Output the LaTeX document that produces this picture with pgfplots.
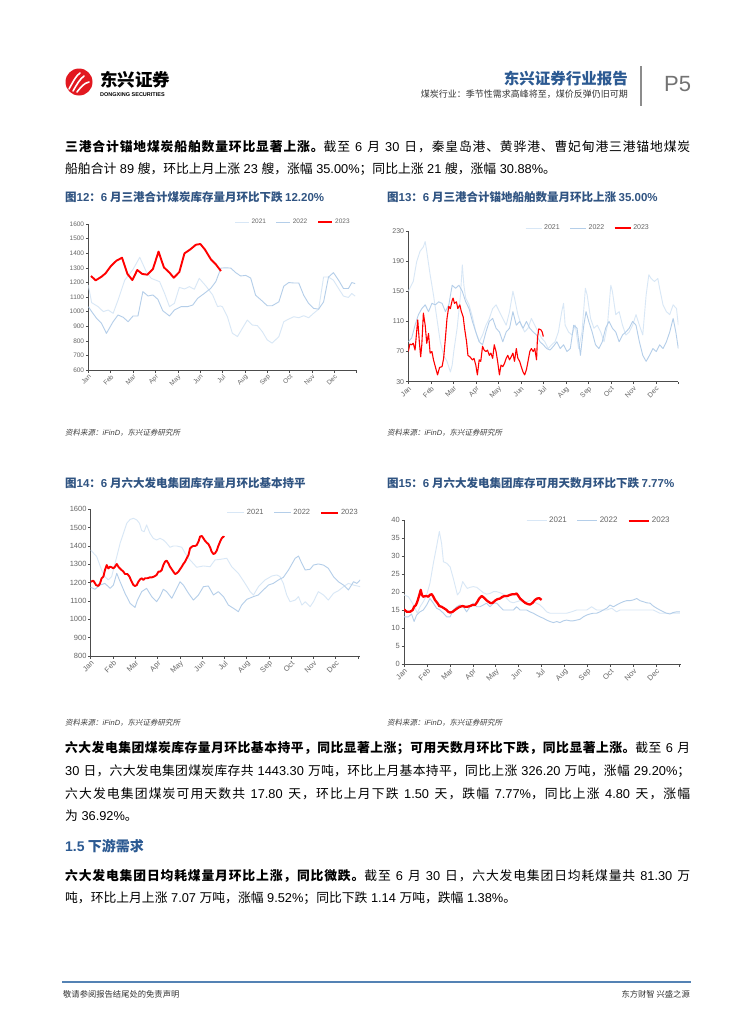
\documentclass[border=0pt]{standalone}
\usepackage{pgfplots}
\pgfplotsset{compat=1.18}
\usepackage{fontspec}
\setmainfont{Noto Sans CJK SC}
\newfontfamily\lat{Liberation Sans}
\newfontfamily\cjkit{Noto Sans CJK SC}[FakeSlant=0.2]
% stretchable glue between CJK characters, used by the justified body lines
\XeTeXinterchartokenstate=1
\newcount\cjkn
\cjkn="4E00
\loop\ifnum\cjkn<"A000 \XeTeXcharclass\cjkn=7 \advance\cjkn by 1 \repeat
\XeTeXcharclass"FF0C=7 \XeTeXcharclass"3001=7 \XeTeXcharclass"3002=7
\XeTeXcharclass"FF1B=7 \XeTeXcharclass"FF1A=7
\XeTeXinterchartoks 7 7 = {\hskip 0pt plus 1pt\relax}

\definecolor{c21}{RGB}{216,231,246}
\definecolor{c22}{RGB}{180,206,233}
\definecolor{tblue}{RGB}{48,84,130}
\definecolor{hblue}{RGB}{44,90,146}
\definecolor{fblue}{RGB}{84,130,180}
\definecolor{logored}{RGB}{226,24,32}

\newcommand\tk[1]{\lat\fontsize{#1bp}{#1bp}\selectfont}
\newcommand\nm[1]{{\lat\ #1\ }}
\newcommand\nmr[1]{{\lat\ #1}}
\newcommand\bodyfont{\fontsize{12.8bp}{16bp}\selectfont}
\newcommand\jline[3]{\node[anchor=base west,inner sep=0pt,font=\bodyfont] at (#1bp,-#2bp) {\makebox[625bp][s]{#3}};}
\newcommand\nline[3]{\node[anchor=base west,inner sep=0pt,font=\bodyfont] at (#1bp,-#2bp) {#3};}
\newcommand\src[2]{\node[anchor=base west,inner sep=0pt,text=black!75,font=\fontsize{7.5bp}{8bp}\selectfont] at (#1bp,-#2bp) {\cjkit 资料来源：{\lat\itshape iFinD}，东兴证券研究所};}

\pgfplotsset{
  pc/.style={
    scale only axis, anchor=south west,
    axis lines=left,
    axis line style={-, draw=black!70, line width=0.6bp},
    tick align=outside, major tick length=2.5bp,
    tick style={draw=black!70, line width=0.5bp},
    xmin=0, xmax=12, xtick={0,...,12},
    xticklabels={Jan,Feb,Mar,Apr,May,Jun,Jul,Aug,Sep,Oct,Nov,Dec,{}},
    xticklabel style={rotate=45, anchor=north east, inner sep=1bp, text=black!60},
    yticklabel style={text=black!60, inner sep=1.5bp},
    /pgf/number format/assume math mode=true,
    /pgf/number format/1000 sep={},
    legend style={draw=none, fill=none, anchor=east, legend columns=3,
      inner sep=0pt, text=black!60,
      /tikz/every even column/.append style={column sep=8bp}},
    no markers, every axis plot/.append style={line join=round},
  },
  p21/.style={c21, line width=0.9bp},
  p22/.style={c22, line width=0.9bp},
  p23/.style={red, line width=1.9bp},
}

\begin{document}
\begin{tikzpicture}
\fill[white] (0,0) rectangle (755bp,-1024bp);

% header
\fill[logored] (79bp,-82bp) circle (13.5bp);
\draw[white, line width=1.6bp, line cap=round] (69bp,-89bp) .. controls (74bp,-80bp) and (76bp,-76bp) .. (80bp,-73bp);
\draw[white, line width=1.6bp, line cap=round] (73bp,-91bp) .. controls (77bp,-84bp) and (80bp,-79bp) .. (84bp,-76bp);
\draw[white, line width=1.6bp, line cap=round] (77bp,-92bp) .. controls (81bp,-87bp) and (84bp,-83bp) .. (89bp,-82bp);
\node[anchor=west, inner sep=0pt, font=\bfseries\fontsize{17.5bp}{17.5bp}\selectfont] at (100bp,-80bp) {东兴证券};
\node[anchor=west, inner sep=0pt, font=\lat\bfseries\fontsize{5.5bp}{6bp}\selectfont] at (100bp,-95bp) {DONGXING SECURITIES};
\node[anchor=base east, inner sep=0pt, text=hblue, font=\bfseries\fontsize{15.5bp}{15.5bp}\selectfont] at (628bp,-84bp) {东兴证券行业报告};
\node[anchor=base east, inner sep=0pt, text=black!80, font=\fontsize{9bp}{9bp}\selectfont] at (628bp,-97bp) {煤炭行业：季节性需求高峰将至，煤价反弹仍旧可期};
\draw[black!45, line width=1.2bp] (641bp,-66bp) -- (641bp,-106bp);
\node[anchor=west, inner sep=0pt, text=black!55, font=\lat\fontsize{22bp}{22bp}\selectfont] at (664bp,-84bp) {P5};

% paragraph 1
\jline{65}{151}{\textbf{三港合计锚地煤炭船舶数量环比显著上涨。}截至\nm{6}月\nm{30}日，秦皇岛港、黄骅港、曹妃甸港三港锚地煤炭}
\nline{65}{173}{船舶合计\nm{89}艘，环比上月上涨\nm{23}艘，涨幅\nmr{35.00\%}；同比上涨\nm{21}艘，涨幅\nmr{30.88\%}。}

% chart titles
\node[anchor=base west, inner sep=0pt, text=tblue, font=\bfseries\fontsize{11.5bp}{12bp}\selectfont] at (65bp,-201.5bp) {图{\lat 12}：{\lat 6} 月三港合计煤炭库存量月环比下跌 {\lat 12.20\%}};
\node[anchor=base west, inner sep=0pt, text=tblue, font=\bfseries\fontsize{11.5bp}{12bp}\selectfont] at (387bp,-201.5bp) {图{\lat 13}：{\lat 6} 月三港合计锚地船舶数量月环比上涨 {\lat 35.00\%}};
\node[anchor=base west, inner sep=0pt, text=tblue, font=\bfseries\fontsize{11.5bp}{12bp}\selectfont] at (65bp,-487.5bp) {图{\lat 14}：{\lat 6} 月六大发电集团库存量月环比基本持平};
\node[anchor=base west, inner sep=0pt, text=tblue, font=\bfseries\fontsize{11.5bp}{12bp}\selectfont] at (387bp,-487.5bp) {图{\lat 15}：{\lat 6} 月六大发电集团库存可用天数月环比下跌 {\lat 7.77\%}};

% chart 12
\begin{axis}[pc, at={(88.3bp,-370bp)}, width=268.4bp, height=146bp,
  ymin=600, ymax=1600, ytick={600,700,...,1600},
  tick label style={font=\tk{6.5}},
  legend style={at={(0.982,1.014)}, font=\tk{6.5}},
  legend image code/.code={\draw[#1] (0bp,0bp) -- (14bp,0bp);}]
\addplot[p21] coordinates {(0,1182)(0.15,1061)(0.44,1034)(0.67,1000)(0.89,1011)(1.11,988)(1.33,1079)(1.63,1216)(2.0,1289)(2.3,1372)(2.59,1274)(2.81,1228)(3.19,1205)(3.41,1125)(3.63,1034)(3.85,1057)(4.07,1166)(4.3,1155)(4.52,1171)(4.74,1153)(4.96,1228)(5.26,1175)(5.56,1114)(5.78,1034)(5.9,1039)(6.0,1033)(6.22,965)(6.44,852)(6.67,829)(6.89,886)(7.11,942)(7.33,908)(7.56,904)(7.78,863)(8.0,806)(8.22,784)(8.52,829)(8.74,931)(8.96,949)(9.19,965)(9.41,958)(9.63,972)(9.85,958)(10.07,988)(10.3,1017)(10.52,1237)(10.74,1237)(10.96,1215)(11.19,1158)(11.41,1106)(11.63,1097)(11.78,1124)(11.93,1106)};
\addplot[p22] coordinates {(0,1034)(0.15,1000)(0.37,954)(0.59,920)(0.81,851)(1.11,931)(1.33,977)(1.56,961)(1.78,931)(2.0,970)(2.22,970)(2.44,1137)(2.67,1107)(2.89,1114)(3.11,1084)(3.33,1006)(3.63,970)(3.85,1011)(4.15,1034)(4.44,1034)(4.67,1045)(4.89,1091)(5.19,1125)(5.48,1160)(5.7,1205)(5.93,1298)(6.15,1300)(6.37,1298)(6.59,1267)(6.81,1244)(7.04,1248)(7.26,1230)(7.48,1112)(7.78,1072)(8.0,1040)(8.22,1040)(8.52,1067)(8.74,1174)(8.96,1199)(9.19,1196)(9.41,1196)(9.63,1112)(9.85,1056)(10.07,1022)(10.3,1017)(10.52,1067)(10.74,1237)(10.96,1267)(11.19,1215)(11.41,1158)(11.63,1158)(11.78,1199)(11.93,1192)};
\addplot[p23] coordinates {(0.12,1244)(0.33,1214)(0.59,1239)(0.77,1262)(1.01,1312)(1.26,1349)(1.51,1369)(1.75,1258)(1.97,1216)(2.19,1285)(2.41,1258)(2.64,1253)(2.89,1292)(3.14,1411)(3.38,1303)(3.63,1267)(3.82,1232)(4.07,1271)(4.30,1399)(4.56,1426)(4.81,1458)(5.01,1463)(5.21,1426)(5.48,1358)(5.70,1324)(5.93,1278)};
\legend{2021,2022,2023}
\end{axis}

% chart 13
\begin{axis}[pc, at={(408.3bp,-381.7bp)}, width=270bp, height=150.7bp,
  ymin=30, ymax=230, ytick={30,70,...,230},
  tick label style={font=\tk{7}},
  legend style={at={(0.899,1.02)}, font=\tk{7}},
  legend image code/.code={\draw[#1] (0bp,0bp) -- (16bp,0bp);}]
\addplot[p21] coordinates {(0,150)(0.22,163)(0.37,189)(0.52,203)(0.67,209)(0.75,216)(0.82,203)(0.97,172)(1.12,145)(1.27,114)(1.42,83)(1.57,65)(1.72,57)(1.87,43)(1.95,52)(2.02,70)(2.17,101)(2.32,145)(2.40,185)(2.47,158)(2.55,141)(2.70,132)(2.85,116)(3.0,96)(3.15,83)(3.30,92)(3.45,105)(3.60,114)(3.75,127)(3.90,132)(4.05,123)(4.20,114)(4.35,105)(4.50,123)(4.65,150)(4.72,141)(4.87,119)(5.02,105)(5.17,96)(5.32,101)(5.47,114)(5.62,105)(5.77,96)(5.92,88)(6.07,83)(6.22,74)(6.37,79)(6.52,83)(6.67,96)(6.82,123)(6.90,134)(6.97,105)(7.12,96)(7.27,92)(7.42,105)(7.57,74)(7.72,96)(7.87,154)(7.95,145)(8.10,114)(8.25,101)(8.40,105)(8.55,96)(8.70,83)(8.85,105)(9.0,158)(9.07,150)(9.22,119)(9.37,123)(9.52,105)(9.67,92)(9.82,96)(9.97,105)(10.12,119)(10.27,105)(10.42,92)(10.57,145)(10.69,172)(10.79,167)(10.94,163)(11.09,167)(11.17,154)(11.32,132)(11.47,123)(11.62,119)(11.77,132)(11.92,127)(12.0,105)};
\addplot[p22] coordinates {(0,83)(0.15,88)(0.30,105)(0.45,119)(0.60,127)(0.75,132)(0.90,123)(1.05,134)(1.20,132)(1.35,136)(1.50,134)(1.65,123)(1.80,132)(1.95,158)(2.10,154)(2.25,158)(2.40,150)(2.55,136)(2.70,127)(2.85,110)(3.0,96)(3.15,83)(3.30,79)(3.45,96)(3.60,110)(3.75,114)(3.90,101)(4.05,96)(4.20,83)(4.35,96)(4.50,101)(4.65,123)(4.80,105)(4.95,110)(5.10,101)(5.25,110)(5.40,101)(5.55,96)(5.70,92)(5.85,83)(6.0,79)(6.15,74)(6.30,72)(6.45,77)(6.60,83)(6.75,74)(6.90,79)(7.05,70)(7.20,74)(7.35,105)(7.50,101)(7.65,65)(7.80,105)(7.90,123)(8.02,110)(8.17,96)(8.32,79)(8.47,74)(8.62,83)(8.77,101)(8.92,110)(9.07,101)(9.22,96)(9.37,83)(9.52,92)(9.67,96)(9.82,101)(9.97,110)(10.12,105)(10.27,83)(10.42,65)(10.57,57)(10.72,65)(10.87,74)(11.02,70)(11.17,79)(11.32,74)(11.47,83)(11.62,96)(11.77,114)(11.89,96)(12.0,74)};
\addplot[red, line width=1.1bp] coordinates {(0,70)(0.07,80)(0.15,79)(0.22,81)(0.30,72)(0.37,96)(0.42,112)(0.49,83)(0.55,63)(0.60,79)(0.67,121)(0.75,105)(0.82,81)(0.90,94)(0.97,68)(1.05,70)(1.12,59)(1.20,50)(1.30,39)(1.39,49)(1.50,50)(1.57,61)(1.65,88)(1.72,114)(1.80,130)(1.87,127)(1.95,138)(1.99,141)(2.05,134)(2.14,136)(2.20,127)(2.29,132)(2.35,124)(2.44,116)(2.50,101)(2.59,83)(2.65,65)(2.74,63)(2.85,59)(2.92,61)(3.0,52)(3.07,39)(3.15,59)(3.22,57)(3.30,77)(3.37,72)(3.45,70)(3.52,72)(3.60,65)(3.67,68)(3.75,61)(3.82,79)(3.90,70)(3.97,57)(4.05,39)(4.12,52)(4.20,50)(4.27,54)(4.35,61)(4.42,65)(4.50,59)(4.57,63)(4.65,68)(4.72,57)(4.80,74)(4.87,61)(4.95,57)(5.02,50)(5.10,43)(5.17,39)(5.25,46)(5.32,57)(5.40,70)(5.47,74)(5.55,70)(5.62,74)(5.70,59)(5.74,88)(5.80,100)(5.89,99)(5.95,96)(6.0,90)};
\legend{2021,2022,2023}
\end{axis}

\src{65}{435}
\src{387}{435}

% chart 14
\begin{axis}[pc, at={(90.7bp,-656bp)}, width=269.5bp, height=146.7bp, xmax=12.1,
  ymin=800, ymax=1600, ytick={800,900,...,1600},
  tick label style={font=\tk{7.5}},
  legend style={at={(0.999,0.977)}, font=\tk{7.5}},
  legend image code/.code={\draw[#1] (0bp,0bp) -- (17bp,0bp);}]
\addplot[p21] coordinates {(0,1378)(0.27,1342)(0.49,1269)(0.64,1233)(0.79,1215)(0.94,1233)(1.17,1342)(1.32,1415)(1.47,1469)(1.62,1524)(1.77,1545)(1.92,1551)(2.07,1542)(2.19,1524)(2.29,1484)(2.40,1478)(2.51,1515)(2.66,1469)(2.81,1442)(2.96,1433)(3.11,1442)(3.26,1433)(3.41,1415)(3.56,1393)(3.71,1400)(3.86,1400)(4.09,1393)(4.24,1360)(4.46,1324)(4.76,1284)(5.06,1291)(5.36,1287)(5.58,1324)(5.81,1327)(6.11,1333)(6.33,1287)(6.63,1251)(6.93,1196)(7.16,1151)(7.31,1133)(7.53,1178)(7.83,1215)(8.13,1236)(8.35,1242)(8.50,1233)(8.65,1196)(8.80,1133)(8.95,1096)(9.18,1105)(9.33,1124)(9.48,1078)(9.63,1096)(9.85,1069)(10.0,1096)(10.22,1151)(10.45,1133)(10.67,1105)(10.90,1142)(11.12,1156)(11.35,1178)(11.57,1196)(11.80,1187)(12.10,1178)};
\addplot[p22] coordinates {(0,1175)(0.19,1164)(0.42,1187)(0.64,1196)(0.87,1169)(1.02,1187)(1.17,1251)(1.32,1205)(1.54,1142)(1.77,1087)(1.99,1065)(2.10,1105)(2.29,1151)(2.51,1169)(2.74,1124)(2.96,1096)(3.11,1124)(3.26,1164)(3.41,1151)(3.64,1115)(3.79,1151)(4.01,1205)(4.16,1187)(4.39,1142)(4.61,1105)(4.84,1133)(5.06,1178)(5.28,1182)(5.51,1133)(5.73,1151)(5.96,1124)(6.18,1078)(6.41,1060)(6.63,1042)(6.78,1078)(7.01,1109)(7.31,1124)(7.53,1133)(7.75,1160)(7.98,1187)(8.20,1196)(8.43,1215)(8.65,1229)(8.88,1269)(9.18,1333)(9.33,1345)(9.48,1305)(9.63,1269)(9.85,1273)(10.0,1296)(10.22,1302)(10.45,1296)(10.67,1278)(10.90,1233)(11.12,1205)(11.35,1187)(11.57,1160)(11.80,1205)(11.95,1196)(12.10,1215)};
\addplot[p23] coordinates {(0,1205)(0.12,1211)(0.24,1187)(0.34,1182)(0.42,1196)(0.49,1224)(0.57,1233)(0.64,1269)(0.72,1296)(0.79,1278)(0.87,1287)(0.94,1284)(1.02,1278)(1.09,1287)(1.17,1302)(1.24,1287)(1.35,1273)(1.47,1260)(1.54,1247)(1.65,1247)(1.74,1233)(1.84,1205)(1.92,1187)(1.99,1182)(2.07,1187)(2.14,1205)(2.22,1218)(2.29,1224)(2.37,1215)(2.44,1224)(2.54,1224)(2.66,1229)(2.74,1229)(2.84,1233)(2.96,1242)(3.04,1260)(3.11,1260)(3.19,1269)(3.26,1296)(3.34,1315)(3.41,1320)(3.49,1305)(3.56,1287)(3.64,1273)(3.71,1260)(3.79,1247)(3.86,1251)(3.94,1260)(4.01,1273)(4.09,1287)(4.16,1302)(4.24,1315)(4.31,1333)(4.39,1351)(4.46,1387)(4.54,1396)(4.61,1400)(4.69,1400)(4.76,1405)(4.84,1424)(4.91,1451)(4.99,1455)(5.06,1442)(5.13,1429)(5.21,1418)(5.28,1411)(5.36,1393)(5.43,1369)(5.51,1356)(5.58,1360)(5.66,1375)(5.73,1400)(5.81,1424)(5.88,1442)(5.96,1451)(6.0,1448)};
\legend{2021,2022,2023}
\end{axis}

% chart 15
\begin{axis}[pc, at={(404bp,-664bp)}, width=277bp, height=144bp, xmax=12.08,
  ymin=0, ymax=40, ytick={0,5,...,40},
  tick label style={font=\tk{7.5}},
  legend style={at={(0.967,0.995)}, font=\tk{8}},
  legend image code/.code={\draw[#1] (0bp,0bp) -- (20bp,0bp);}]
\addplot[p21] coordinates {(0,19.2)(0.19,18.7)(0.33,17.3)(0.48,15.5)(0.58,14.1)(0.70,15.9)(0.84,17.3)(0.99,19.2)(1.13,22.4)(1.28,28.0)(1.42,32.6)(1.54,36.8)(1.64,33.5)(1.72,28.4)(1.86,28.0)(2.01,27.0)(2.15,23.8)(2.33,19.2)(2.44,20.1)(2.56,22.9)(2.66,21.9)(2.76,21.0)(2.88,21.3)(3.02,21.5)(3.17,21.3)(3.31,20.6)(3.46,19.8)(3.60,19.4)(3.75,19.6)(3.90,20.1)(4.04,20.1)(4.19,19.8)(4.33,19.4)(4.48,18.2)(4.62,17.3)(4.77,17.0)(4.91,17.3)(5.06,17.6)(5.20,17.3)(5.35,17.3)(5.49,17.6)(5.64,17.3)(5.78,16.9)(5.93,16.4)(6.08,15.5)(6.22,14.5)(6.37,14.1)(6.58,14.1)(6.80,14.1)(7.09,14.1)(7.31,14.5)(7.53,15.0)(7.75,15.0)(7.97,15.0)(8.18,15.9)(8.40,15.0)(8.62,15.0)(8.84,15.0)(9.06,15.5)(9.27,14.5)(9.42,15.0)(9.71,15.0)(10.0,15.0)(10.29,15.0)(10.58,15.0)(10.87,15.0)(11.16,14.1)(11.45,14.1)(11.74,14.1)(12.03,14.1)};
\addplot[p22] coordinates {(0,13.1)(0.19,13.1)(0.33,13.9)(0.44,11.8)(0.55,13.6)(0.70,14.5)(0.84,15.0)(0.99,16.4)(1.13,18.2)(1.28,16.9)(1.42,15.5)(1.57,15.0)(1.72,14.1)(1.86,13.1)(2.01,13.1)(2.15,15.0)(2.30,15.9)(2.44,16.4)(2.59,15.9)(2.73,14.5)(2.88,15.9)(3.02,16.9)(3.17,15.9)(3.31,15.9)(3.46,16.4)(3.60,16.9)(3.75,15.9)(3.90,16.9)(4.04,16.9)(4.19,15.9)(4.33,15.0)(4.48,15.0)(4.62,15.0)(4.77,15.0)(4.91,15.9)(5.06,15.0)(5.20,15.0)(5.35,15.0)(5.49,14.5)(5.64,14.1)(5.78,13.6)(5.93,13.1)(6.08,12.7)(6.22,12.2)(6.37,11.8)(6.51,11.5)(6.66,11.8)(6.80,11.5)(6.95,12.0)(7.09,12.2)(7.24,12.0)(7.38,12.0)(7.53,12.2)(7.67,12.4)(7.82,13.1)(7.97,13.6)(8.11,13.9)(8.26,14.1)(8.40,14.1)(8.55,14.5)(8.69,15.0)(8.84,15.5)(8.98,16.4)(9.13,15.9)(9.27,16.4)(9.42,16.9)(9.56,17.3)(9.71,17.6)(9.85,17.6)(10.0,17.8)(10.15,18.2)(10.29,17.6)(10.44,17.3)(10.58,17.0)(10.73,16.9)(10.87,16.1)(11.02,15.5)(11.16,15.0)(11.31,14.5)(11.45,14.1)(11.60,13.9)(11.74,14.3)(11.89,14.5)(12.03,14.5)};
\addplot[red, line width=2.3bp] coordinates {(0,15.2)(0.12,14.5)(0.26,14.5)(0.38,15.0)(0.44,15.9)(0.52,16.4)(0.58,17.3)(0.67,19.2)(0.73,20.6)(0.78,19.2)(0.84,18.7)(0.96,18.9)(1.06,18.7)(1.13,19.2)(1.21,19.4)(1.28,18.7)(1.35,17.8)(1.45,17.0)(1.54,16.1)(1.64,15.9)(1.74,15.5)(1.86,15.0)(1.93,14.5)(2.01,14.3)(2.12,14.5)(2.22,15.0)(2.33,15.5)(2.44,15.9)(2.56,16.1)(2.66,15.9)(2.76,15.9)(2.88,16.1)(2.99,16.4)(3.10,16.4)(3.20,17.3)(3.28,18.2)(3.39,18.9)(3.49,18.4)(3.58,17.8)(3.68,17.3)(3.78,16.9)(3.87,17.0)(3.97,17.6)(4.07,18.0)(4.19,18.2)(4.30,18.7)(4.40,18.9)(4.51,18.9)(4.62,19.2)(4.74,19.4)(4.84,19.4)(4.91,19.6)(4.99,18.9)(5.06,18.2)(5.17,17.6)(5.28,17.0)(5.38,16.7)(5.49,16.5)(5.61,17.0)(5.71,17.8)(5.81,18.2)(5.90,18.3)(6.00,17.8)};
\legend{2021,2022,2023}
\end{axis}

\src{65}{725}
\src{387}{725}

% paragraph 2
\jline{65}{752}{\textbf{六大发电集团煤炭库存量月环比基本持平，同比显著上涨；可用天数月环比下跌，同比显著上涨。}截至\nm{6}月}
\jline{65}{775}{{\lat 30\ }日，六大发电集团煤炭库存共\nm{1443.30}万吨，环比上月基本持平，同比上涨\nm{326.20}万吨，涨幅\nmr{29.20\%}；}
\jline{65}{798}{六大发电集团煤炭可用天数共\nm{17.80}天，环比上月下跌\nm{1.50}天，跌幅\nmr{7.77\%}，同比上涨\nm{4.80}天，涨幅}
\nline{65}{820}{为\nmr{36.92\%}。}

% section 1.5
\node[anchor=base west, inner sep=0pt, text=hblue, font=\bfseries\fontsize{14bp}{14bp}\selectfont] at (65bp,-851bp) {{\lat 1.5} 下游需求};

% paragraph 3
\jline{65}{880}{\textbf{六大发电集团日均耗煤量月环比上涨，同比微跌。}截至\nm{6}月\nm{30}日，六大发电集团日均耗煤量共\nm{81.30}万}
\nline{65}{902}{吨，环比上月上涨\nm{7.07}万吨，涨幅\nmr{9.52\%}；同比下跌\nm{1.14}万吨，跌幅\nmr{1.38\%}。}

% footer
\draw[fblue, line width=1.8bp] (62bp,-982bp) -- (691bp,-982bp);
\node[anchor=base west, inner sep=0pt, text=black!80, font=\fontsize{8.3bp}{9bp}\selectfont] at (63bp,-997bp) {敬请参阅报告结尾处的免责声明};
\node[anchor=base east, inner sep=0pt, text=black!80, font=\fontsize{8.3bp}{9bp}\selectfont] at (690bp,-997bp) {东方财智 兴盛之源};
\end{tikzpicture}
\end{document}
